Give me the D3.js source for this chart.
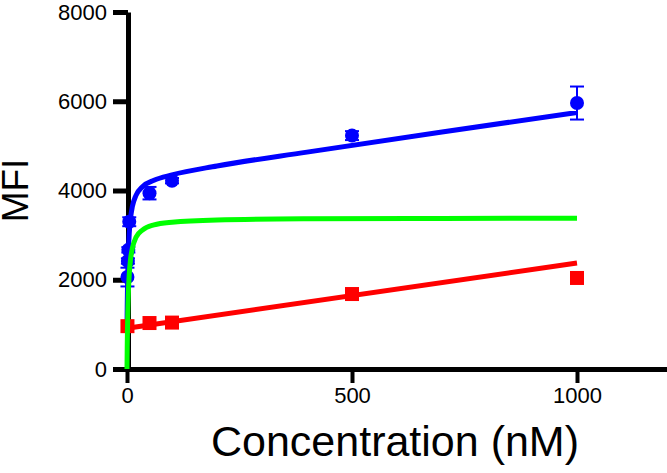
<!DOCTYPE html>
<html>
<head>
<meta charset="utf-8">
<script src="https://cdn.jsdelivr.net/npm/d3@7"></script>
<style>
  html, body { margin: 0; padding: 0; background: #fff; }
  svg { display: block; font-family: 'Liberation Sans', Arial, sans-serif; }
</style>
</head>
<body>
<svg width="667" height="473"></svg>
<script>
// measured points
const totalConc = [1, 2, 3, 5, 50, 100, 500, 1000]
const totalMfi = [2060, 2420, 2670, 3300, 3940, 4220, 5230, 5960]
const totalErr = [210, 60, 60, 100, 140, 60, 100, 370]

const nsConc = [1, 50, 100, 500, 1000]
const nsMfi = [960, 1030, 1040, 1680, 2040]

// fitted curves
const fitConc = [0, 0.5, 1, 2, 3, 5, 8, 12, 20, 35, 60, 100, 200, 400, 700, 1000]
const totalFit = [915, 1400, 1760, 2270, 2610, 3040, 3390, 3645, 3890, 4090, 4230, 4350, 4550, 4860, 5310, 5750]
const specificFit = [0, 480, 850, 1360, 1700, 2120, 2470, 2710, 2950, 3120, 3230, 3290, 3340, 3365, 3375, 3380]
const nsFitConc = [0, 1000]
const nsFit = [915, 2375]

const xTicks = [0, 500, 1000]
const yTicks = [0, 2000, 4000, 6000, 8000]

const colors = {total: '#0000ff', specific: '#00ff00', ns: '#ff0000'}

const svg = d3.select('svg')

const x = d3.scaleLinear().domain([0, 1200]).range([127, 667])
const y = d3.scaleLinear().domain([0, 8000]).range([369, 12])

// axes
const xAxis = svg.append('g')
  .attr('transform', `translate(0, ${y(0)})`)
  .call(d3.axisBottom(x).tickValues(xTicks).tickFormat(d3.format('d'))
    .tickSize(14).tickSizeOuter(0).tickPadding(4))
xAxis.select('.domain').attr('stroke', '#000').attr('stroke-width', 5)
xAxis.selectAll('.tick line').attr('stroke-width', 4)
xAxis.selectAll('.tick text').attr('font-size', 22).attr('fill', '#000')

const yAxis = svg.append('g')
  .attr('transform', `translate(${x(0) + 1}, 0)`)
  .call(d3.axisLeft(y).tickValues(yTicks).tickFormat(d3.format('d'))
    .tickSize(15).tickSizeOuter(0).tickPadding(6))
yAxis.select('.domain').attr('stroke', '#000').attr('stroke-width', 5)
yAxis.selectAll('.tick line').attr('stroke-width', 5)
yAxis.selectAll('.tick text').attr('font-size', 22).attr('fill', '#000')

// axis titles
svg.append('text')
  .attr('transform', `translate(28, ${y(4000)}) rotate(-90)`)
  .attr('text-anchor', 'middle')
  .attr('font-size', 37)
  .text('MFI')

svg.append('text')
  .attr('x', 395)
  .attr('y', 456)
  .attr('text-anchor', 'middle')
  .attr('font-size', 43)
  .text('Concentration (nM)')

const line = d3.line()
  .x((d) => x(d[0]))
  .y((d) => y(d[1]))
  .curve(d3.curveMonotoneX)

const drawCurve = (xs, ys, color) => {
  svg.append('path')
    .datum(xs.map((c, i) => [c, ys[i]]))
    .attr('fill', 'none')
    .attr('stroke', color)
    .attr('stroke-width', 5)
    .attr('d', line)
}

drawCurve(fitConc, totalFit, colors.total)
drawCurve(nsFitConc, nsFit, colors.ns)

// total binding points with error bars
const totalPts = totalConc.map((c, i) => ({c, v: totalMfi[i], e: totalErr[i]}))
const err = svg.append('g')
  .attr('stroke', colors.total)
  .attr('stroke-width', 2)
  .selectAll('g')
  .data(totalPts)
  .join('g')
err.append('line')
  .attr('x1', (d) => x(d.c)).attr('x2', (d) => x(d.c))
  .attr('y1', (d) => y(d.v - d.e)).attr('y2', (d) => y(d.v + d.e))
err.selectAll('.cap')
  .data((d) => [[d.c, d.v - d.e], [d.c, d.v + d.e]])
  .join('line')
  .attr('class', 'cap')
  .attr('x1', (d) => x(d[0]) - 7).attr('x2', (d) => x(d[0]) + 7)
  .attr('y1', (d) => y(d[1])).attr('y2', (d) => y(d[1]))

svg.append('g')
  .selectAll('circle')
  .data(totalPts)
  .join('circle')
  .attr('cx', (d) => x(d.c))
  .attr('cy', (d) => y(d.v))
  .attr('r', 7)
  .attr('fill', colors.total)

// nonspecific points
svg.append('g')
  .selectAll('rect')
  .data(nsConc.map((c, i) => ({c, v: nsMfi[i]})))
  .join('rect')
  .attr('x', (d) => x(d.c) - 7)
  .attr('y', (d) => y(d.v) - 7)
  .attr('width', 14)
  .attr('height', 14)
  .attr('fill', colors.ns)

drawCurve(fitConc, specificFit, colors.specific)
</script>
</body>
</html>
